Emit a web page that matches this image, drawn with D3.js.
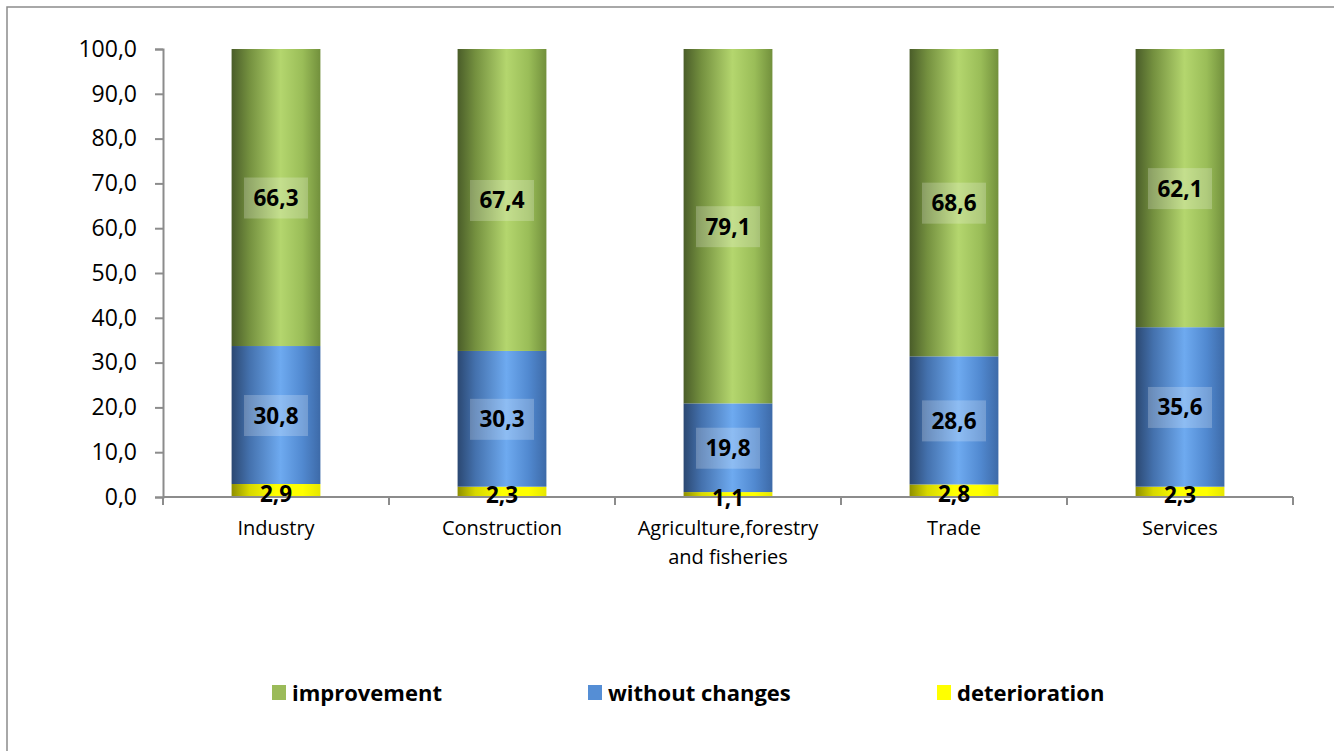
<!DOCTYPE html>
<html>
<head>
<meta charset="utf-8">
<script src="https://cdn.jsdelivr.net/npm/d3@7"></script>
<style>
  html, body { margin: 0; padding: 0; background: #fff; }
  svg { display: block; }
  text { font-family: "Open Sans", "Noto Sans", sans-serif; }
</style>
</head>
<body>
<svg id="chart" width="1334" height="751"></svg>
<script>
const categories = ["Industry", "Construction", "Agriculture,forestry\nand fisheries", "Trade", "Services"];
const deterioration = [2.9, 2.3, 1.1, 2.8, 2.3];
const withoutChanges = [30.8, 30.3, 19.8, 28.6, 35.6];
const improvement = [66.3, 67.4, 79.1, 68.6, 62.1];
const yTicks = [0, 10, 20, 30, 40, 50, 60, 70, 80, 90, 100];
const seriesNames = ["deterioration", "without changes", "improvement"];
const legendOrder = ["improvement", "without changes", "deterioration"];

const svg = d3.select("#chart");
const W = 1334, H = 751;

// frame
svg.append("rect").attr("x", 7).attr("y", 7).attr("width", W + 20).attr("height", H + 20)
  .attr("fill", "#fff").attr("stroke", "#8c8c8c").attr("stroke-width", 1.5);

const x = d3.scaleBand().domain(categories).range([163, 1293]).paddingInner(0.607).paddingOuter(0.3035);
const y = d3.scaleLinear().domain([0, 100]).range([497, 49]);

// gradients
const defs = svg.append("defs");
const gradStops = {
  "improvement": [["0%", "#4a5d29"], ["20%", "#74903f"], ["55%", "#b4d66e"], ["80%", "#9abd58"], ["100%", "#72903c"]],
  "without changes": [["0%", "#2b4872"], ["20%", "#4471ad"], ["55%", "#6eaaf0"], ["80%", "#5189d0"], ["100%", "#3d6aa8"]],
  "deterioration": [["0%", "#8f8f00"], ["20%", "#d8d800"], ["50%", "#ffff00"], ["80%", "#ffff00"], ["100%", "#e6e600"]]
};
const gradId = {};
seriesNames.forEach((s, i) => {
  const id = "g" + i;
  gradId[s] = id;
  const g = defs.append("linearGradient").attr("id", id).attr("x1", "0%").attr("x2", "100%").attr("y1", "0%").attr("y2", "0%");
  gradStops[s].forEach(([o, c]) => g.append("stop").attr("offset", o).attr("stop-color", c));
});
const legendColor = { "improvement": "#9bbb59", "without changes": "#558ed5", "deterioration": "#ffff00" };

const data = categories.map((c, i) => ({
  cat: c,
  "deterioration": deterioration[i],
  "without changes": withoutChanges[i],
  "improvement": improvement[i]
}));
const stacked = d3.stack().keys(seriesNames)(data);

// bars
stacked.forEach(layer => {
  const key = layer.key;
  svg.append("g").selectAll("rect").data(layer).join("rect")
    .attr("x", d => x(d.data.cat))
    .attr("y", d => y(d[1]))
    .attr("width", x.bandwidth())
    .attr("height", d => y(d[0]) - y(d[1]))
    .attr("fill", `url(#${gradId[key]})`);
});

// axes
const axisColor = "#8c8c8c";
const yAxis = svg.append("g").attr("transform", "translate(163,0)")
  .call(d3.axisLeft(y).tickValues(yTicks).tickSize(8).tickPadding(18)
    .tickFormat(d => d3.format(".1f")(d).replace(".", ",")));
yAxis.select(".domain").attr("stroke", axisColor).attr("stroke-width", 2);
yAxis.selectAll(".tick line").attr("stroke", axisColor).attr("stroke-width", 2);
yAxis.selectAll("text").attr("font-size", 23).attr("fill", "#000").attr("font-family", "Open Sans");

const xAxisG = svg.append("g").attr("transform", "translate(0,497)");
xAxisG.append("line").attr("x1", 163).attr("x2", 1293).attr("y1", 0).attr("y2", 0)
  .attr("stroke", axisColor).attr("stroke-width", 2);
const boundaries = d3.range(categories.length + 1).map(i => 163 + i * x.step());
xAxisG.selectAll(".xt").data(boundaries).join("line")
  .attr("x1", d => d).attr("x2", d => d).attr("y1", 0).attr("y2", 8)
  .attr("stroke", axisColor).attr("stroke-width", 2);
xAxisG.selectAll(".xl").data(categories).join("text")
  .attr("x", d => x(d) + x.bandwidth() / 2)
  .attr("y", 38)
  .attr("text-anchor", "middle")
  .attr("font-size", 20)
  .attr("fill", "#000")
  .each(function(d) {
    const lines = d.split("\n");
    const t = d3.select(this);
    lines.forEach((l, i) => t.append("tspan").attr("x", x(d) + x.bandwidth() / 2).attr("dy", i === 0 ? 0 : 29).text(l));
  });

// value labels
stacked.forEach(layer => {
  const key = layer.key;
  const g = svg.append("g");
  layer.forEach(d => {
    const v = d[1] - d[0];
    const cx = x(d.data.cat) + x.bandwidth() / 2;
    const cy = (y(d[0]) + y(d[1])) / 2;
    const txt = d3.format(".1f")(v).replace(".", ",");
    if (key !== "deterioration") {
      g.append("rect").attr("x", cx - 32).attr("y", cy - 20).attr("width", 64).attr("height", 41)
        .attr("fill", "#fff").attr("fill-opacity", 0.22);
    }
    g.append("text").attr("x", cx).attr("y", key === "deterioration" ? cy + 3 : cy)
      .attr("text-anchor", "middle").attr("dominant-baseline", "central")
      .attr("font-size", 22.5).attr("font-weight", "bold").attr("fill", "#000")
      .text(txt);
  });
});

// legend
const legendX = { "improvement": 272, "without changes": 588, "deterioration": 937 };
const lg = svg.append("g");
legendOrder.forEach(s => {
  lg.append("rect").attr("x", legendX[s]).attr("y", 685).attr("width", 14).attr("height", 15).attr("fill", legendColor[s]);
  lg.append("text").attr("x", legendX[s] + 20).attr("y", 692).attr("dominant-baseline", "central")
    .attr("font-size", 22).attr("font-weight", "bold").attr("fill", "#000").text(s);
});
</script>
</body>
</html>
